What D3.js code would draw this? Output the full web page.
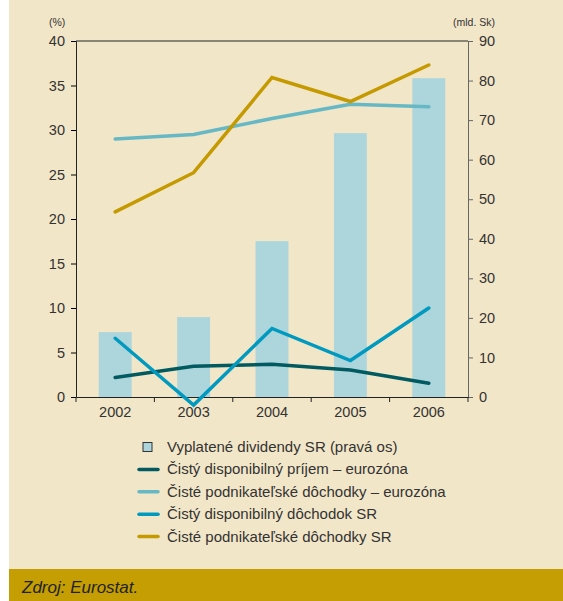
<!DOCTYPE html>
<html><head><meta charset="utf-8">
<script src="https://cdn.jsdelivr.net/npm/d3@7"></script>
<style>
body{margin:0;background:#fff;}
svg{display:block;font-family:"Liberation Sans",Arial,sans-serif;}
</style></head><body>
<svg id="c" width="563" height="601"></svg>
<script>
const years = ["2002","2003","2004","2005","2006"];
const dividends = [16.4, 20.2, 39.4, 66.7, 80.6];
const dispEuro = [2.2, 3.45, 3.67, 3.03, 1.54];
const entEuro = [29.0, 29.5, 31.3, 32.9, 32.6];
const dispSR = [6.6, -0.9, 7.7, 4.1, 10.0];
const entSR = [20.8, 25.2, 35.9, 33.2, 37.3];
const leftTicks = [0,5,10,15,20,25,30,35,40];
const rightTicks = [0,10,20,30,40,50,60,70,80,90];
const legendLabels = ["Vyplatené dividendy SR (pravá os)","Čistý disponibilný príjem – eurozóna","Čisté podnikateľské dôchodky – eurozóna","Čistý disponibilný dôchodok SR","Čisté podnikateľské dôchodky SR"];

const svg = d3.select("#c");
svg.append("rect").attr("x",9).attr("y",0).attr("width",554).attr("height",569).attr("fill","#F2E6C8");
svg.append("rect").attr("x",9).attr("y",569).attr("width",554).attr("height",32).attr("fill","#C49E03");
svg.append("text").attr("x",22).attr("y",593).attr("font-size",17).attr("font-style","italic").attr("fill","#222").text("Zdroj: Eurostat.");

const L=76,R=468,T=41,B=397;
const x = d3.scaleBand().domain(years).range([L,R]);
const yl = d3.scaleLinear().domain([0,40]).range([B,T]);
const yr = d3.scaleLinear().domain([0,90]).range([B,T]);

// bars
svg.append("g").selectAll("rect").data(dividends).join("rect")
 .attr("x",(d,i)=>x(years[i])+x.bandwidth()*0.29).attr("width",x.bandwidth()*0.42)
 .attr("y",d=>yr(d)).attr("height",d=>yr(0)-yr(d)).attr("fill","#ADD5DC");

// frame
svg.append("line").attr("x1",L).attr("x2",R).attr("y1",T).attr("y2",T).attr("stroke","#222").attr("stroke-width",1);

const gl = svg.append("g").attr("transform",`translate(${L},0)`).call(d3.axisLeft(yl).tickValues(leftTicks).tickSize(5).tickPadding(6));
gl.select(".domain").attr("stroke","#222");
gl.selectAll("text").attr("font-size",14.5).attr("fill","#333");
const gr = svg.append("g").attr("transform",`translate(${R},0)`).call(d3.axisRight(yr).tickValues(rightTicks).tickSize(5).tickPadding(6));
gr.selectAll(".domain,line").attr("stroke","#666");
gr.selectAll("text").attr("font-size",14.5).attr("fill","#333");
const gx = svg.append("g").attr("transform",`translate(0,${B})`).call(d3.axisBottom(x).tickSize(0).tickPadding(10));
gx.select(".domain").attr("stroke","#222");
gx.selectAll("text").attr("font-size",14.5).attr("fill","#333");
// band edge ticks
const edges = years.map(y=>x(y)).concat([R]);
svg.append("g").selectAll("line").data(edges).join("line")
 .attr("x1",d=>d).attr("x2",d=>d).attr("y1",B).attr("y2",B+5).attr("stroke","#222");

svg.append("text").attr("x",49).attr("y",26).attr("font-size",10.5).attr("fill","#333").text("(%)");
svg.append("text").attr("x",495).attr("y",26).attr("font-size",10.5).attr("fill","#333").attr("text-anchor","end").text("(mld. Sk)");

const cx = (d,i)=>x(years[i])+x.bandwidth()/2;
const series = [
 {v:entEuro,c:"#66B8C5"},
 {v:entSR,c:"#C49A00"},
 {v:dispEuro,c:"#005A60"},
 {v:dispSR,c:"#0099BF"}
];
series.forEach(s=>{
 svg.append("path").datum(s.v).attr("fill","none").attr("stroke",s.c).attr("stroke-width",3.5)
  .attr("stroke-linecap","round").attr("stroke-linejoin","miter")
  .attr("d",d3.line().x(cx).y(d=>yl(d)));
});

// legend
const lg = svg.append("g");
const legColors = ["#ADD5DC","#005A60","#66B8C5","#0099BF","#C49A00"];
legendLabels.forEach((t,i)=>{
 const yy = 447 + i*22.4;
 if(i===0){
  lg.append("rect").attr("x",143).attr("y",yy-4.5).attr("width",9).attr("height",9).attr("fill",legColors[0]).attr("stroke","#333").attr("stroke-width",1);
 } else {
  lg.append("line").attr("x1",139).attr("x2",158).attr("y1",yy).attr("y2",yy).attr("stroke",legColors[i]).attr("stroke-width",3.5).attr("stroke-linecap","round");
 }
 lg.append("text").attr("x",167).attr("y",yy+5).attr("font-size",15).attr("fill","#333").text(t);
});
</script></body></html>
